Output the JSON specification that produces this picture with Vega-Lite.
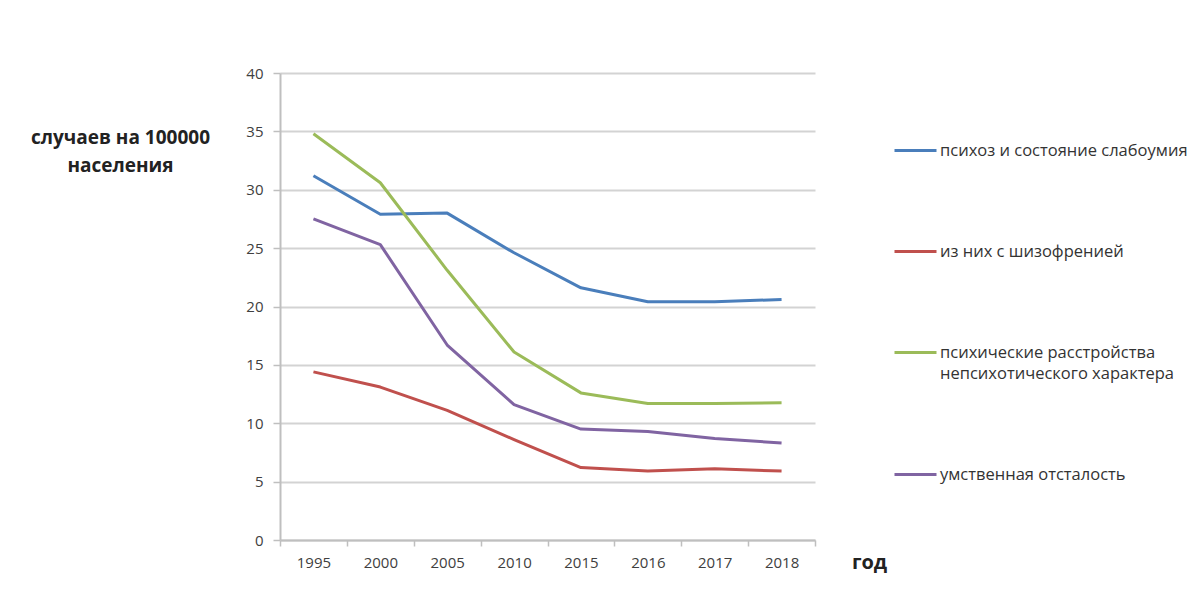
{
  "$schema": "https://vega.github.io/schema/vega-lite/v6.json",
  "width": 535,
  "height": 467,
  "autosize": "none",
  "padding": {"left": 280, "top": 73, "right": 379, "bottom": 60},
  "background": "white",
  "config": {
    "font": "Open Sans",
    "view": {"stroke": null}
  },
  "data": {
    "values": [
      {"year": "1995", "series": "психоз и состояние слабоумия", "value": 31.2},
      {"year": "2000", "series": "психоз и состояние слабоумия", "value": 27.9},
      {"year": "2005", "series": "психоз и состояние слабоумия", "value": 28.0},
      {"year": "2010", "series": "психоз и состояние слабоумия", "value": 24.6},
      {"year": "2015", "series": "психоз и состояние слабоумия", "value": 21.6},
      {"year": "2016", "series": "психоз и состояние слабоумия", "value": 20.4},
      {"year": "2017", "series": "психоз и состояние слабоумия", "value": 20.4},
      {"year": "2018", "series": "психоз и состояние слабоумия", "value": 20.6},
      {"year": "1995", "series": "из них с шизофренией", "value": 14.4},
      {"year": "2000", "series": "из них с шизофренией", "value": 13.1},
      {"year": "2005", "series": "из них с шизофренией", "value": 11.1},
      {"year": "2010", "series": "из них с шизофренией", "value": 8.6},
      {"year": "2015", "series": "из них с шизофренией", "value": 6.2},
      {"year": "2016", "series": "из них с шизофренией", "value": 5.9},
      {"year": "2017", "series": "из них с шизофренией", "value": 6.1},
      {"year": "2018", "series": "из них с шизофренией", "value": 5.9},
      {"year": "1995", "series": "психические расстройства непсихотического характера", "value": 34.8},
      {"year": "2000", "series": "психические расстройства непсихотического характера", "value": 30.6},
      {"year": "2005", "series": "психические расстройства непсихотического характера", "value": 23.1},
      {"year": "2010", "series": "психические расстройства непсихотического характера", "value": 16.1},
      {"year": "2015", "series": "психические расстройства непсихотического характера", "value": 12.6},
      {"year": "2016", "series": "психические расстройства непсихотического характера", "value": 11.7},
      {"year": "2017", "series": "психические расстройства непсихотического характера", "value": 11.7},
      {"year": "2018", "series": "психические расстройства непсихотического характера", "value": 11.75},
      {"year": "1995", "series": "умственная отсталость", "value": 27.5},
      {"year": "2000", "series": "умственная отсталость", "value": 25.3},
      {"year": "2005", "series": "умственная отсталость", "value": 16.7},
      {"year": "2010", "series": "умственная отсталость", "value": 11.6},
      {"year": "2015", "series": "умственная отсталость", "value": 9.5},
      {"year": "2016", "series": "умственная отсталость", "value": 9.3},
      {"year": "2017", "series": "умственная отсталость", "value": 8.7},
      {"year": "2018", "series": "умственная отсталость", "value": 8.3}
    ]
  },
  "mark": {"type": "line", "strokeWidth": 3, "strokeJoin": "round"},
  "encoding": {
    "x": {
      "field": "year",
      "type": "ordinal",
      "scale": {"type": "band", "paddingInner": 0, "paddingOuter": 0},
      "axis": {
        "labelAngle": 0,
        "labelFontSize": 15,
        "labelColor": "#404040",
        "labelPadding": 9,
        "tickBand": "extent",
        "tickSize": 6,
        "tickColor": "#bfbfbf",
        "tickWidth": 1.5,
        "domainColor": "#bfbfbf",
        "domainWidth": 2,
        "grid": false,
        "title": "год",
        "titleFontSize": 20,
        "titleFontWeight": "bold",
        "titleColor": "#222222",
        "titleX": 589,
        "titleY": 22,
        "titleBaseline": "middle",
        "titleAlign": "center"
      }
    },
    "y": {
      "field": "value",
      "type": "quantitative",
      "scale": {"domain": [0, 40], "nice": false},
      "axis": {
        "values": [0, 5, 10, 15, 20, 25, 30, 35, 40],
        "labelFontSize": 15,
        "labelColor": "#404040",
        "labelPadding": 10,
        "tickSize": 7,
        "tickColor": "#bfbfbf",
        "tickWidth": 1.5,
        "domainColor": "#bfbfbf",
        "domainWidth": 2,
        "gridColor": "#d3d3d3",
        "gridWidth": 2,
        "title": ["случаев на 100000", "населения"],
        "titleAngle": 0,
        "titleFontSize": 19,
        "titleFontWeight": "bold",
        "titleColor": "#222222",
        "titleLineHeight": 28,
        "titleAlign": "center",
        "titleBaseline": "middle",
        "titleX": -160,
        "titleY": 64
      }
    },
    "color": {
      "field": "series",
      "type": "nominal",
      "sort": ["психоз и состояние слабоумия", "из них с шизофренией", "психические расстройства непсихотического характера", "умственная отсталость"],
      "scale": {
        "domain": ["психоз и состояние слабоумия", "из них с шизофренией", "психические расстройства непсихотического характера", "умственная отсталость"],
        "range": ["#4a7ebb", "#c0504d", "#9bbb59", "#8064a2"]
      },
      "legend": {
        "title": null,
        "orient": "none",
        "legendX": 613,
        "legendY": 55,
        "symbolType": "stroke",
        "symbolSize": 1764,
        "symbolStrokeWidth": 3,
        "labelFontSize": 16.5,
        "labelColor": "#333333",
        "labelOffset": 2,
        "labelLimit": 400,
        "rowPadding": 70,
        "labelExpr": "datum.label == 'психические расстройства непсихотического характера' ? ['психические расстройства', 'непсихотического характера'] : datum.label",
        "encode": {"labels": {"update": {"lineHeight": {"value": 21}}}}
      }
    }
  }
}
